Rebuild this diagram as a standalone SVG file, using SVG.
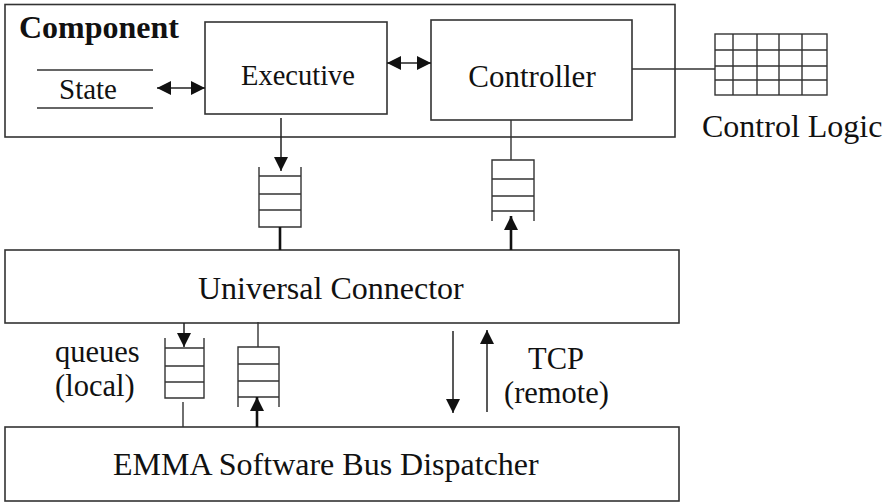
<svg xmlns="http://www.w3.org/2000/svg" width="883" height="502" viewBox="0 0 883 502">
<style>
.box{fill:#fff;stroke:#333;stroke-width:1.6}
.ln{fill:none;stroke:#333;stroke-width:1.4}
.thk{fill:none;stroke:#111;stroke-width:2.6}
.arr{fill:none;stroke:#222;stroke-width:1.5}
.t{font-family:"Liberation Serif","Times New Roman",serif;fill:#111}
.lbl{font-size:30.5px}
</style>
<defs>
<marker id="ah" viewBox="0 0 14 14" refX="14" refY="7" markerWidth="14" markerHeight="14" markerUnits="userSpaceOnUse" orient="auto-start-reverse">
<path d="M0,0 L14,7 L0,14 z" fill="#111"/>
</marker>
</defs>
<rect width="883" height="502" fill="#fff"/>

<g id="component">
<rect class="box" x="5" y="4.5" width="670" height="132.5"/>
<text class="t" x="19" y="38" font-size="32" font-weight="bold">Component</text>
</g>

<g id="state">
<line class="ln" x1="37" y1="70" x2="153" y2="70"/>
<line class="ln" x1="37" y1="108" x2="153" y2="108"/>
<text class="t" x="59" y="99" font-size="29">State</text>
</g>

<g id="executive">
<rect class="box" x="205" y="22" width="182" height="92"/>
<text class="t" x="298" y="85" font-size="28.5" text-anchor="middle">Executive</text>
</g>

<g id="controller">
<rect class="box" x="431" y="20" width="201" height="100"/>
<text class="t" x="532" y="87" font-size="31" text-anchor="middle">Controller</text>
</g>

<g id="control-logic">
<rect class="ln" x="715" y="34" width="112" height="61"/>
<path class="ln" d="M733,34V95M757,34V95M779,34V95M802,34V95M715,50H827M715,66H827M715,80H827"/>
<text class="t" x="702" y="137" font-size="32">Control Logic</text>
</g>

<g id="queue-exec">
<path class="ln" d="M259,167V227H301V167M259,176H301M259,194H301M259,210H301"/>
</g>

<g id="queue-ctrl">
<path class="ln" d="M492,221V160H534V221M492,179H534M492,196H534M492,211H534"/>
</g>

<g id="universal-connector">
<rect class="box" x="5" y="250" width="674" height="73"/>
<text class="t" x="198" y="299" font-size="32">Universal Connector</text>
</g>

<g id="queue-local-down">
<path class="ln" d="M165,338V398H204V338M165,348H204M165,366H204M165,382H204"/>
</g>

<g id="queue-local-up">
<path class="ln" d="M238,407V347H279V407M238,364H279M238,381H279M238,397H279"/>
</g>

<g id="labels">
<text class="t lbl" x="55" y="362">queues</text>
<text class="t lbl" x="55" y="396">(local)</text>
<text class="t lbl" x="528" y="369">TCP</text>
<text class="t lbl" x="504" y="403">(remote)</text>
</g>

<g id="emma-dispatcher">
<rect class="box" x="5" y="427" width="674" height="74"/>
<text class="t" x="113" y="475" font-size="32">EMMA Software Bus Dispatcher</text>
</g>

<g id="connectors">
<line class="arr" x1="157" y1="88" x2="205" y2="88" marker-start="url(#ah)" marker-end="url(#ah)"/>
<line class="arr" x1="387" y1="63" x2="431" y2="63" marker-start="url(#ah)" marker-end="url(#ah)"/>
<line class="ln" x1="632" y1="69" x2="715" y2="69"/>
<line class="arr" x1="281" y1="118" x2="281" y2="171" marker-end="url(#ah)"/>
<line class="thk" x1="280" y1="227" x2="280" y2="250"/>
<line class="ln" x1="511" y1="120" x2="511" y2="160"/>
<line class="thk" x1="511" y1="250" x2="511" y2="216" marker-end="url(#ah)"/>
<line class="arr" x1="184" y1="323" x2="184" y2="347" marker-end="url(#ah)"/>
<line class="ln" x1="183" y1="402" x2="183" y2="427"/>
<line class="ln" x1="258" y1="322" x2="258" y2="347"/>
<line class="thk" x1="257" y1="427" x2="257" y2="397" marker-end="url(#ah)"/>
<line class="arr" x1="453" y1="331" x2="453" y2="413" marker-end="url(#ah)"/>
<line class="arr" x1="487" y1="412" x2="487" y2="330" marker-end="url(#ah)"/>
</g>
</svg>
